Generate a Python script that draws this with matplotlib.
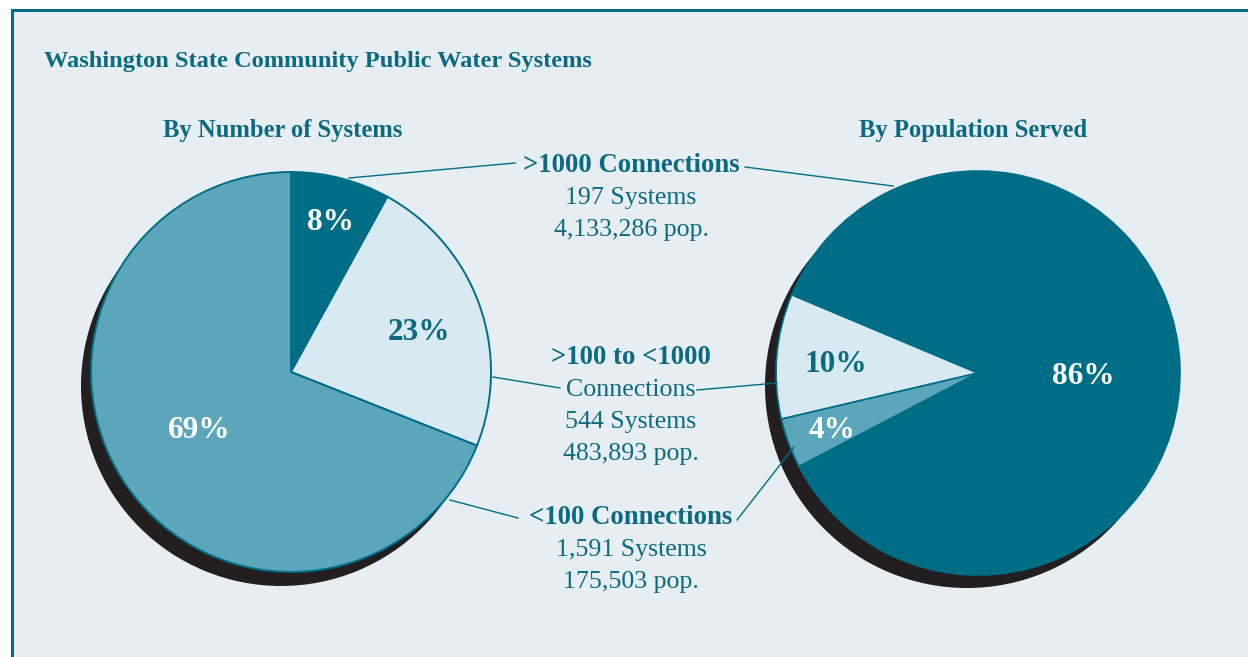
import matplotlib
matplotlib.use("Agg")
import matplotlib.pyplot as plt
from matplotlib.patches import Rectangle

# ---------------- data ----------------
categories = [">1000 Connections", ">100 to <1000 Connections", "<100 Connections"]
systems_pct = [8, 23, 69]          # by number of systems
population_pct = [86, 10, 4]       # by population served
systems_count = ["197", "544", "1,591"]
population_count = ["4,133,286", "483,893", "175,503"]

title = "Washington State Community Public Water Systems"
subtitle_left = "By Number of Systems"
subtitle_right = "By Population Served"

# ---------------- style ----------------
DARK = "#006d87"
MED = "#5ba6bb"
LIGHT = "#d9e9f1"
SHADOW = "#231f20"
TEXT = "#0b6a80"
BG = "#e6eef3"
W, H = 1248, 657
SERIF = ["Liberation Serif", "DejaVu Serif"]

fig = plt.figure(figsize=(W / 100, H / 100), dpi=100, facecolor="white")
ax = fig.add_axes([0, 0, 1, 1])
ax.set_axis_off()


def Y(ypx):
    return H - ypx


# panel with teal border on top/left
ax.add_patch(Rectangle((12, -20), W + 20, Y(10) + 20, facecolor=BG,
                       edgecolor=DARK, linewidth=2.2, zorder=0))

# ---------------- left pie: by number of systems ----------------
cl, rl = (291, Y(372)), 200
ax.pie([1], colors=[SHADOW], center=(cl[0] - 10, cl[1] - 14), radius=rl,
       wedgeprops=dict(linewidth=0), frame=True)
ax.pie(systems_pct, colors=[DARK, LIGHT, MED], startangle=90, counterclock=False,
       center=cl, radius=rl, frame=True,
       wedgeprops=dict(edgecolor=DARK, linewidth=1.4))

# ---------------- right pie: by population served ----------------
cr, rr = (978, Y(373)), 202
ax.pie([1], colors=[SHADOW], center=(cr[0] - 11, cr[1] - 13), radius=rr,
       wedgeprops=dict(linewidth=0), frame=True)
ax.pie([population_pct[1], population_pct[2], population_pct[0]],
       colors=[LIGHT, MED, DARK], startangle=157.2, counterclock=True,
       center=cr, radius=rr, frame=True,
       wedgeprops=dict(edgecolor=DARK, linewidth=1.2))

ax.set_xlim(0, W)
ax.set_ylim(0, H)
ax.set_aspect("equal")
ax.set_axis_off()

# ---------------- percentage labels ----------------
pct_kw = dict(fontfamily=SERIF, fontweight="bold", fontsize=22.5,
              ha="center", va="center", zorder=5)
ax.text(330, Y(223), f"{systems_pct[0]}%", color="white", **pct_kw)
ax.text(419, Y(333), f"{systems_pct[1]}%", color=TEXT, **pct_kw)
ax.text(199, Y(430), f"{systems_pct[2]}%", color="white", **pct_kw)
ax.text(1083, Y(376), f"{population_pct[0]}%", color="white", **pct_kw)
ax.text(836, Y(364), f"{population_pct[1]}%", color=TEXT, **pct_kw)
ax.text(832, Y(430), f"{population_pct[2]}%", color="white", **pct_kw)

# ---------------- titles ----------------
ax.text(44, Y(62), title, color=TEXT, fontfamily=SERIF, fontweight="bold",
        fontsize=17.6, ha="left", va="center")
ax.text(283, Y(131), subtitle_left, color=TEXT, fontfamily=SERIF,
        fontweight="bold", fontsize=17.7, ha="center", va="center")
ax.text(973, Y(131), subtitle_right, color=TEXT, fontfamily=SERIF,
        fontweight="bold", fontsize=17.7, ha="center", va="center")

# ---------------- central category labels ----------------
mid_x = 631
lab_kw = dict(fontfamily=SERIF, fontsize=18.6, color=TEXT, ha="center",
              va="center", zorder=5)
bold_kw = dict(lab_kw, fontsize=19.3, fontweight="bold")
ax.text(mid_x, Y(166), categories[0], **bold_kw)
ax.text(mid_x, Y(198), f"{systems_count[0]} Systems", **lab_kw)
ax.text(mid_x, Y(230), f"{population_count[0]} pop.", **lab_kw)

ax.text(mid_x, Y(358), ">100 to <1000", **bold_kw)
ax.text(mid_x, Y(390), "Connections", **lab_kw)
ax.text(mid_x, Y(422), f"{systems_count[1]} Systems", **lab_kw)
ax.text(mid_x, Y(454), f"{population_count[1]} pop.", **lab_kw)

ax.text(mid_x, Y(518), categories[2], **bold_kw)
ax.text(mid_x, Y(550), f"{systems_count[2]} Systems", **lab_kw)
ax.text(mid_x, Y(582), f"{population_count[2]} pop.", **lab_kw)

# ---------------- leader lines ----------------
leaders = [
    ((349, 178), (515, 163)), ((745, 167), (893, 186)),
    ((493, 377), (560, 388)), ((697, 390), (777, 383)),
    ((450, 500), (518, 518)), ((737, 520), (794, 447)),
]
for (x0, y0), (x1, y1) in leaders:
    ax.plot([x0, x1], [Y(y0), Y(y1)], color=DARK, linewidth=1.0, zorder=4)

fig.savefig("out.png", dpi=100, facecolor="white")
